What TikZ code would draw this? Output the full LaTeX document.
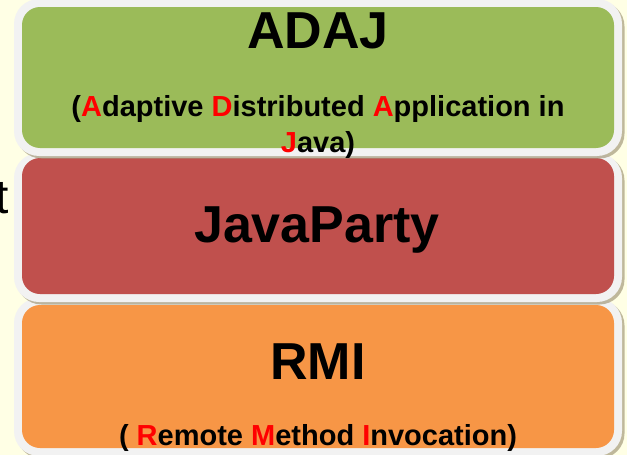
\documentclass[tikz,border=0pt]{standalone}
\usepackage{fontspec}
\setmainfont{Liberation Sans}
\definecolor{bgyellow}{RGB}{255,255,229}
\definecolor{framegray}{RGB}{242,242,242}
\definecolor{shadowc}{RGB}{165,155,125}
\definecolor{adajgreen}{RGB}{155,187,89}
\definecolor{partyred}{RGB}{192,80,77}
\definecolor{rmiorange}{RGB}{247,150,70}
\definecolor{hl}{RGB}{255,0,0}
\tikzset{
  outerframe/.style={fill=framegray, draw=none, rounded corners=25pt, minimum width=608pt, inner sep=0pt},
  framshadow/.style={fill=shadowc, fill opacity=0.7, draw=none, rounded corners=25pt, minimum width=608pt, inner sep=0pt},
  innerbox/.style={draw=none, rounded corners=18pt, minimum width=592pt, inner sep=0pt},
  bigtitle/.style={font=\fontsize{52}{56}\selectfont\bfseries, inner sep=0pt, anchor=base},
  subtitle/.style={font=\fontsize{29}{34}\selectfont\bfseries, inner sep=0pt, anchor=base},
}
\newcommand{\hlr}[1]{\textcolor{hl}{#1}}
\begin{document}
\begin{tikzpicture}[x=1pt,y=-1pt]
\useasboundingbox (0,0) rectangle (627,455);
\fill[bgyellow] (0,0) rectangle (627,455);
\clip (0,0) rectangle (627,455);
% partially hidden text at the left
\node[font=\fontsize{48}{52}\selectfont, inner sep=0pt, anchor=base east] (tletter) at (9,213) {t};
% RMI (bottom)
\node[framshadow, minimum height=158pt] (rmishadow) at (320.5,379.5) {};
\node[outerframe, minimum height=158pt] (rmiframe) at (318,377) {};
\node[innerbox, fill=rmiorange, minimum height=143pt] (rmibox) at (318,376.5) {};
% JavaParty (middle)
\node[framshadow, minimum height=149pt] (jpshadow) at (320.5,230) {};
\node[outerframe, minimum height=149pt] (jpframe) at (318,227.5) {};
\node[innerbox, fill=partyred, minimum height=136pt] (jpbox) at (318,226) {};
% ADAJ (top)
\node[framshadow, minimum height=157pt] (adajshadow) at (320.5,80) {};
\node[outerframe, minimum height=157pt] (adajframe) at (318,77.5) {};
\node[innerbox, fill=adajgreen, minimum height=141pt] (adajbox) at (318,77.5) {};
% texts
\node[bigtitle] (adajtitle) at (318,48) {ADAJ};
\node[subtitle] (adajsub1) at (318,116) {(\hlr{A}daptive \hlr{D}istributed \hlr{A}pplication in};
\node[subtitle] (adajsub2) at (318,152) {\hlr{J}ava)};
\node[bigtitle] (jptitle) at (317,242) {JavaParty};
\node[bigtitle] (rmititle) at (318,379) {RMI};
\node[subtitle] (rmisub) at (318,445) {( \hlr{R}emote \hlr{M}ethod \hlr{I}nvocation)};
\end{tikzpicture}
\end{document}
